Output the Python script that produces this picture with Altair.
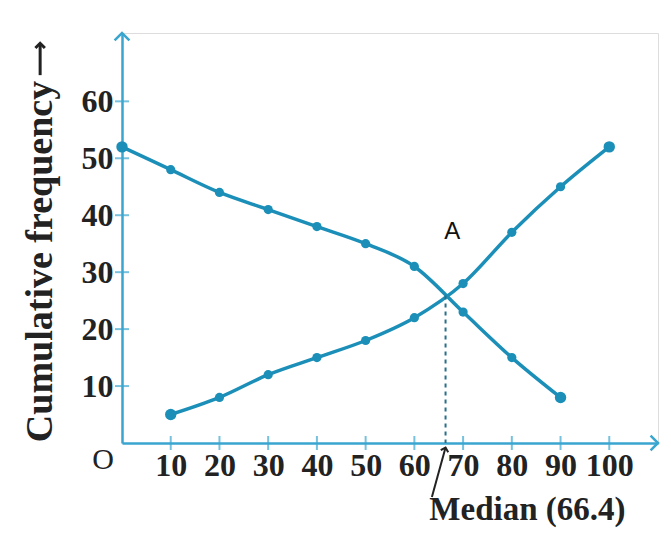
import altair as alt
import pandas as pd

# ---- data ----
upper_limits = [10, 20, 30, 40, 50, 60, 70, 80, 90, 100]
less_than_cf = [5, 8, 12, 15, 18, 22, 28, 37, 45, 52]
lower_limits = [0, 10, 20, 30, 40, 50, 60, 70, 80, 90]
more_than_cf = [52, 48, 44, 41, 38, 35, 31, 23, 15, 8]
x_ticks = [10, 20, 30, 40, 50, 60, 70, 80, 90, 100]
y_ticks = [10, 20, 30, 40, 50, 60]
median_value = 66.4
median_cf = 25.9
x_max = 110
y_max = 72

LINE = "#1b8fb8"
AXIS = "#3aa6d0"
SERIF = "Liberation Serif"
INK = "#222"

less_df = pd.DataFrame({"x": upper_limits, "y": less_than_cf})
more_df = pd.DataFrame({"x": lower_limits, "y": more_than_cf})

xs = alt.Scale(domain=[0, x_max], nice=False, zero=False)
ys = alt.Scale(domain=[0, y_max], nice=False, zero=False)

xaxis = alt.Axis(values=x_ticks, ticks=False, grid=False, domainColor=AXIS, domainWidth=2.5,
                 labelFont=SERIF, labelFontWeight="bold", labelFontSize=32, labelColor=INK,
                 labelPadding=7, title=None, labelFlush=False)
yaxis = alt.Axis(values=y_ticks, ticks=False, grid=False, domainColor=AXIS, domainWidth=2.5,
                 labelFont=SERIF, labelFontWeight="bold", labelFontSize=32, labelColor=INK,
                 labelPadding=9, title="Cumulative frequency", titleFont=SERIF,
                 titleFontWeight="bold", titleFontSize=38, titleColor=INK,
                 titleAngle=270, titleX=-82, titleY=228, titleAlign="center",
                 titleBaseline="middle")

base_x = alt.X("x:Q", scale=xs, axis=xaxis)
base_y = alt.Y("y:Q", scale=ys, axis=yaxis)

less_line = alt.Chart(less_df).mark_line(color=LINE, strokeWidth=3.5, interpolate="monotone").encode(x=base_x, y=base_y)
more_line = alt.Chart(more_df).mark_line(color=LINE, strokeWidth=3.5, interpolate="monotone").encode(x="x:Q", y="y:Q")
less_pts = alt.Chart(less_df).mark_circle(color=LINE, size=85, opacity=1).encode(x="x:Q", y="y:Q")
more_pts = alt.Chart(more_df).mark_circle(color=LINE, size=85, opacity=1).encode(x="x:Q", y="y:Q")

ends_df = pd.DataFrame({"x": [lower_limits[0], upper_limits[-1], lower_limits[-1], upper_limits[0]],
                        "y": [more_than_cf[0], less_than_cf[-1], more_than_cf[-1], less_than_cf[0]]})
ends = alt.Chart(ends_df).mark_circle(color=LINE, size=130, opacity=1).encode(x="x:Q", y="y:Q")

xt_df = pd.DataFrame({"x": x_ticks, "y": [0] * len(x_ticks)})
yt_df = pd.DataFrame({"x": [0] * len(y_ticks), "y": y_ticks})
xticks = alt.Chart(xt_df).mark_tick(orient="vertical", size=14, thickness=2, color=AXIS).encode(x="x:Q", y="y:Q")
yticks = alt.Chart(yt_df).mark_tick(orient="horizontal", size=14, thickness=2, color=AXIS).encode(x="x:Q", y="y:Q")

arrows_df = pd.DataFrame({"x": [x_max, 0], "y": [0, y_max], "ang": [90, 0]})
arrows = alt.Chart(arrows_df).mark_point(shape="M-1,1L0,0L1,1", size=220, filled=False, color=AXIS,
                                         strokeWidth=2.5, opacity=1).encode(
    x="x:Q", y="y:Q", angle=alt.Angle("ang:Q", scale=None))

dot_df = pd.DataFrame({"x": [median_value, median_value], "y": [median_cf, 0]})
dotted = alt.Chart(dot_df).mark_line(color="#2a6f8a", strokeWidth=2, strokeDash=[4, 4]).encode(x="x:Q", y="y:Q")

# arrow pointing at the median on the x axis
marr_df = pd.DataFrame({"x": [63.6, median_value], "y": [-9.5, -0.8]})
marr_line = alt.Chart(marr_df).mark_line(color=INK, strokeWidth=2).encode(x="x:Q", y="y:Q")
mhead_df = pd.DataFrame({"x": [median_value], "y": [-0.8]})
mhead = alt.Chart(mhead_df).mark_point(shape="M-1,1L0,0L1,1", size=60, filled=False, color=INK,
                                       strokeWidth=2, opacity=1, angle=16).encode(x="x:Q", y="y:Q")

# arrow after the y-axis title
yarr_df = pd.DataFrame({"x": [-16.8, -16.8], "y": [64.6, 70.2]})
yarr_line = alt.Chart(yarr_df).mark_line(color=INK, strokeWidth=3).encode(x="x:Q", y="y:Q")
yhead_df = pd.DataFrame({"x": [-16.8], "y": [70.2]})
yhead = alt.Chart(yhead_df).mark_point(shape="M-1,1L0,0L1,1", size=90, filled=False, color=INK,
                                       strokeWidth=3, opacity=1).encode(x="x:Q", y="y:Q")

labels_df = pd.DataFrame({"x": [83.2], "y": [-11.7], "t": ["Median (66.4)"]})
mlabel = alt.Chart(labels_df).mark_text(font=SERIF, fontWeight="bold", fontSize=33, color=INK,
                                        baseline="middle", align="center").encode(x="x:Q", y="y:Q", text="t:N")

a_df = pd.DataFrame({"x": [67.8], "y": [37], "t": ["A"]})
alabel = alt.Chart(a_df).mark_text(font="Liberation Sans", fontSize=24, color="#111",
                                   baseline="middle", align="center").encode(x="x:Q", y="y:Q", text="t:N")

o_df = pd.DataFrame({"x": [0], "y": [0], "t": ["O"]})
olabel = alt.Chart(o_df).mark_text(font=SERIF, fontSize=30, color=INK, dx=-19, dy=17,
                                   baseline="middle", align="center").encode(x="x:Q", y="y:Q", text="t:N")

chart = alt.layer(less_line, more_line, dotted, less_pts, more_pts, ends, xticks, yticks, arrows,
                  marr_line, mhead, yarr_line, yhead, mlabel, alabel, olabel).properties(
    width=536, height=410,
    autosize=alt.AutoSizeParams(type="none"),
    padding={"left": 114, "top": 25, "right": 5, "bottom": 90},
).configure_view(stroke=None).configure(background="white")

chart.save("out.html", embed_options={"renderer": "svg", "actions": False})
